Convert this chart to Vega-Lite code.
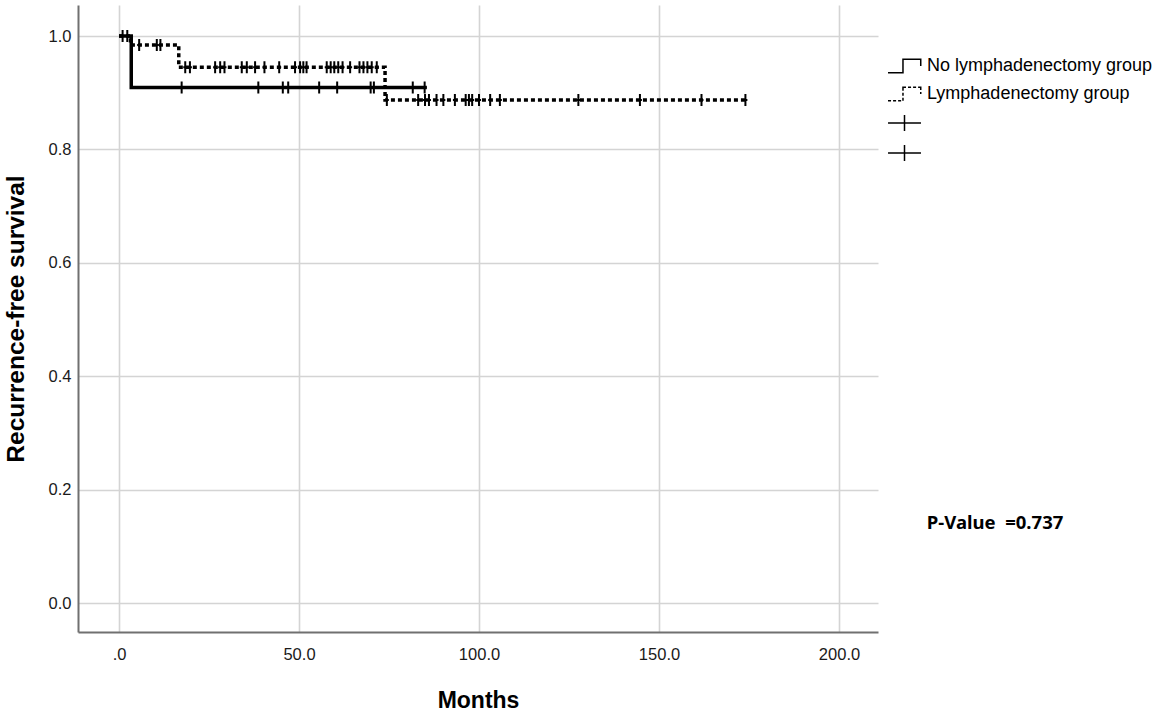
{
  "$schema": "https://vega.github.io/schema/vega-lite/v6.json",
  "width": 800,
  "height": 627,
  "autosize": {"type": "none"},
  "padding": {"left": 78, "top": 5, "right": 282, "bottom": 84},
  "background": "white",
  "config": {
    "view": {"stroke": null},
    "font": "Liberation Sans",
    "axis": {
      "grid": true,
      "gridColor": "#d4d4d4",
      "gridWidth": 1.6,
      "ticks": false,
      "domainColor": "#707070",
      "domainWidth": 2,
      "labelFont": "Liberation Sans",
      "labelFontSize": 16.5,
      "labelColor": "#1a1a1a",
      "titleFont": "Liberation Sans",
      "titleFontWeight": "bold",
      "titleColor": "#000000"
    }
  },
  "datasets": {
    "steps": [
      {"group": "No lymphadenectomy group", "months": 0, "survival": 1.0},
      {"group": "No lymphadenectomy group", "months": 3.4, "survival": 0.909},
      {"group": "No lymphadenectomy group", "months": 85.5, "survival": 0.909},
      {"group": "Lymphadenectomy group", "months": 0, "survival": 1.0},
      {"group": "Lymphadenectomy group", "months": 3.2, "survival": 0.984},
      {"group": "Lymphadenectomy group", "months": 16.6, "survival": 0.945},
      {"group": "Lymphadenectomy group", "months": 73.9, "survival": 0.887},
      {"group": "Lymphadenectomy group", "months": 174.6, "survival": 0.887}
    ],
    "censored": [
      {"group": "No lymphadenectomy group", "months": 17.4, "survival": 0.909},
      {"group": "No lymphadenectomy group", "months": 38.7, "survival": 0.909},
      {"group": "No lymphadenectomy group", "months": 45.5, "survival": 0.909},
      {"group": "No lymphadenectomy group", "months": 47.0, "survival": 0.909},
      {"group": "No lymphadenectomy group", "months": 55.6, "survival": 0.909},
      {"group": "No lymphadenectomy group", "months": 60.6, "survival": 0.909},
      {"group": "No lymphadenectomy group", "months": 69.9, "survival": 0.909},
      {"group": "No lymphadenectomy group", "months": 70.8, "survival": 0.909},
      {"group": "No lymphadenectomy group", "months": 81.6, "survival": 0.909},
      {"group": "No lymphadenectomy group", "months": 84.9, "survival": 0.909},
      {"group": "Lymphadenectomy group", "months": 1.0, "survival": 1.0},
      {"group": "Lymphadenectomy group", "months": 2.3, "survival": 1.0},
      {"group": "Lymphadenectomy group", "months": 5.6, "survival": 0.984},
      {"group": "Lymphadenectomy group", "months": 10.5, "survival": 0.984},
      {"group": "Lymphadenectomy group", "months": 11.5, "survival": 0.984},
      {"group": "Lymphadenectomy group", "months": 18.4, "survival": 0.945},
      {"group": "Lymphadenectomy group", "months": 19.7, "survival": 0.945},
      {"group": "Lymphadenectomy group", "months": 26.7, "survival": 0.945},
      {"group": "Lymphadenectomy group", "months": 28.1, "survival": 0.945},
      {"group": "Lymphadenectomy group", "months": 29.3, "survival": 0.945},
      {"group": "Lymphadenectomy group", "months": 34.1, "survival": 0.945},
      {"group": "Lymphadenectomy group", "months": 35.5, "survival": 0.945},
      {"group": "Lymphadenectomy group", "months": 37.8, "survival": 0.945},
      {"group": "Lymphadenectomy group", "months": 40.4, "survival": 0.945},
      {"group": "Lymphadenectomy group", "months": 44.5, "survival": 0.945},
      {"group": "Lymphadenectomy group", "months": 48.9, "survival": 0.945},
      {"group": "Lymphadenectomy group", "months": 50.3, "survival": 0.945},
      {"group": "Lymphadenectomy group", "months": 51.2, "survival": 0.945},
      {"group": "Lymphadenectomy group", "months": 52.1, "survival": 0.945},
      {"group": "Lymphadenectomy group", "months": 57.7, "survival": 0.945},
      {"group": "Lymphadenectomy group", "months": 58.8, "survival": 0.945},
      {"group": "Lymphadenectomy group", "months": 59.8, "survival": 0.945},
      {"group": "Lymphadenectomy group", "months": 60.9, "survival": 0.945},
      {"group": "Lymphadenectomy group", "months": 62.1, "survival": 0.945},
      {"group": "Lymphadenectomy group", "months": 64.2, "survival": 0.945},
      {"group": "Lymphadenectomy group", "months": 66.8, "survival": 0.945},
      {"group": "Lymphadenectomy group", "months": 67.9, "survival": 0.945},
      {"group": "Lymphadenectomy group", "months": 69.0, "survival": 0.945},
      {"group": "Lymphadenectomy group", "months": 70.2, "survival": 0.945},
      {"group": "Lymphadenectomy group", "months": 71.6, "survival": 0.945},
      {"group": "Lymphadenectomy group", "months": 74.4, "survival": 0.887},
      {"group": "Lymphadenectomy group", "months": 83.1, "survival": 0.887},
      {"group": "Lymphadenectomy group", "months": 85.0, "survival": 0.887},
      {"group": "Lymphadenectomy group", "months": 86.1, "survival": 0.887},
      {"group": "Lymphadenectomy group", "months": 88.2, "survival": 0.887},
      {"group": "Lymphadenectomy group", "months": 90.1, "survival": 0.887},
      {"group": "Lymphadenectomy group", "months": 93.3, "survival": 0.887},
      {"group": "Lymphadenectomy group", "months": 96.3, "survival": 0.887},
      {"group": "Lymphadenectomy group", "months": 97.2, "survival": 0.887},
      {"group": "Lymphadenectomy group", "months": 98.1, "survival": 0.887},
      {"group": "Lymphadenectomy group", "months": 100.0, "survival": 0.887},
      {"group": "Lymphadenectomy group", "months": 103.1, "survival": 0.887},
      {"group": "Lymphadenectomy group", "months": 105.8, "survival": 0.887},
      {"group": "Lymphadenectomy group", "months": 127.6, "survival": 0.887},
      {"group": "Lymphadenectomy group", "months": 144.7, "survival": 0.887},
      {"group": "Lymphadenectomy group", "months": 161.8, "survival": 0.887},
      {"group": "Lymphadenectomy group", "months": 174.0, "survival": 0.887}
    ],
    "note": [{"label": "P-Value\u00a0 =0.737", "months": 224.4, "survival": 0.141}]
  },
  "encoding": {
    "x": {
      "field": "months",
      "type": "quantitative",
      "scale": {"domain": [-11.39, 210.83], "nice": false, "zero": false},
      "axis": {
        "title": "Months",
        "titleFontSize": 23,
        "titlePadding": 27,
        "values": [0, 50, 100, 150, 200],
        "labelExpr": "datum.value == 0 ? '.0' : format(datum.value, '.1f')",
        "labelPadding": 14
      }
    },
    "y": {
      "field": "survival",
      "type": "quantitative",
      "scale": {"domain": [-0.0511, 1.0547], "nice": false, "zero": false},
      "axis": {
        "title": "Recurrence-free survival",
        "titleFontSize": 24.5,
        "titlePadding": 20,
        "values": [0, 0.2, 0.4, 0.6, 0.8, 1.0],
        "format": ".1f",
        "labelPadding": 7
      }
    }
  },
  "layer": [
    {
      "data": {"name": "steps"},
      "mark": {"type": "line", "interpolate": "step-after"},
      "encoding": {
        "strokeDash": {
          "field": "group",
          "type": "nominal",
          "scale": {"domain": ["No lymphadenectomy group", "Lymphadenectomy group"], "range": [[1, 0], [4, 3]]},
          "legend": null
        },
        "color": {"value": "#000000"},
        "strokeWidth": {"value": 3.5}
      }
    },
    {
      "data": {"name": "censored"},
      "mark": {"type": "point", "filled": false, "shape": "M-0.33,0H0.33M0,-1V1", "size": 144, "color": "#000000", "strokeWidth": 2, "opacity": 1},
      "encoding": {"detail": {"field": "group", "type": "nominal"}}
    },
    {
      "data": {"name": "censored"},
      "mark": {"type": "point", "filled": false, "size": 0, "color": "#000000", "strokeWidth": 1.5, "opacity": 1},
      "encoding": {
        "shape": {
          "field": "group",
          "type": "nominal",
          "scale": {
            "domain": ["No lymphadenectomy group", "Lymphadenectomy group", "censored-1", "censored-2"],
            "range": [
              "M-2.06,0.84H-0.19V-0.84H2.03V0",
              "M-2.06,0.84H-1.68M-1.43,0.84H-1.05M-0.8,0.84H-0.42M-0.19,0.84V0.46M-0.19,0.21V-0.17M-0.19,-0.42V-0.84H0.19M0.44,-0.84H0.82M1.07,-0.84H1.45M1.7,-0.84H2.03V-0.5M2.03,-0.25V0",
              "M-2.06,0H2.06M0,-1V1",
              "M-2.06,0H2.06M0,-1V1"
            ]
          },
          "legend": {
            "title": null,
            "orient": "none",
            "legendX": 817.5,
            "legendY": 52,
            "padding": 0,
            "symbolSize": 256,
            "symbolStrokeWidth": 1.5,
            "symbolStrokeColor": "#000000",
            "symbolOpacity": 1,
            "labelFont": "Liberation Sans",
            "labelFontSize": 18,
            "labelColor": "#000000",
            "labelLimit": 400,
            "labelOffset": 13.5,
            "rowPadding": 8,
            "labelExpr": "indexof(datum.label, 'censored') == 0 ? ' ' : datum.label"
          }
        }
      }
    },
    {
      "data": {"name": "note"},
      "mark": {"type": "text", "font": "Noto Sans", "fontWeight": "bold", "fontSize": 18.5, "align": "left", "baseline": "middle", "color": "#000000"},
      "encoding": {
        "text": {"field": "label", "type": "nominal"}
      }
    }
  ]
}
